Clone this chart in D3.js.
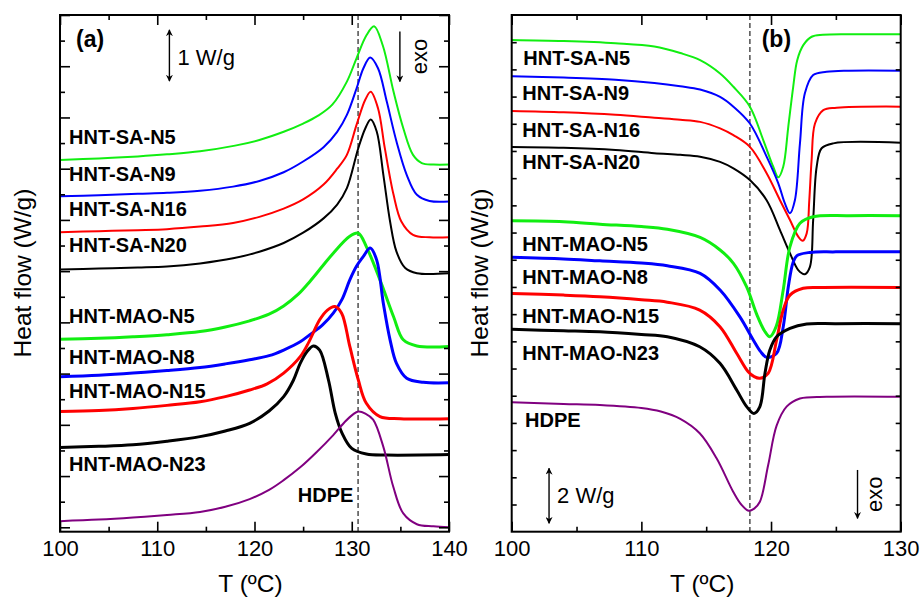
<!DOCTYPE html>
<html>
<head>
<meta charset="utf-8">
<script src="https://cdn.jsdelivr.net/npm/d3@7"></script>
<style>
  body { margin: 0; background: #fff; }
  svg text { font-family: "Liberation Sans", Arial, Helvetica, sans-serif; fill: #000; }
</style>
</head>
<body>
<svg id="chart" width="921" height="598"></svg>
<script>
// ---------------- Data: DSC curves, [T (°C), heat flow (W/g, shifted)] ----------------
// (a) melting (second heating)
const meltSA_N5 = [[100,7.17],[104,7.2],[108,7.24],[111,7.28],[114.4,7.34],[118,7.45],[120.5,7.56],[123,7.72],[125,7.88],[126.5,8.03],[128,8.25],[129.5,8.7],[130.5,9.16],[131.5,9.6],[132.3,9.78],[133.2,9.4],[134.3,8.5],[135.3,7.79],[136.3,7.27],[137.2,7.11],[138.4,7.08],[140,7.08]];
const meltSA_N9 = [[100,6.46],[104,6.48],[108,6.51],[111,6.53],[114.4,6.57],[117.8,6.65],[120.5,6.76],[123,6.93],[125,7.14],[127.1,7.42],[128.5,7.72],[129.5,8.05],[130.5,8.57],[131.2,8.96],[131.9,9.17],[132.7,8.96],[133.6,8.31],[134.6,7.53],[135.65,6.88],[136.7,6.49],[138,6.37],[140,6.36]];
const meltSA_N16 = [[100,5.76],[104,5.78],[108,5.8],[111,5.82],[114.4,5.87],[117.8,5.94],[120.5,6.06],[123,6.22],[125,6.4],[127.1,6.69],[128.5,7.0],[129.5,7.27],[130.5,7.86],[131.4,8.35],[131.95,8.5],[132.7,8.18],[133.4,7.4],[134.3,6.49],[135.1,5.97],[136.3,5.71],[138,5.66],[140,5.66]];
const meltSA_N20 = [[100,5.03],[104,5.05],[108,5.07],[111,5.09],[114.4,5.15],[117.8,5.25],[120.5,5.38],[123,5.55],[125,5.75],[127.1,6.03],[128.5,6.3],[129.5,6.62],[130.67,7.4],[131.4,7.79],[131.95,7.96],[132.56,7.73],[133.25,6.88],[133.94,5.97],[134.6,5.38],[135.5,5.06],[136.7,4.96],[140,4.96]];
const meltMAO_N5 = [[100,3.67],[104,3.69],[107.5,3.72],[111,3.76],[114.4,3.82],[117,3.91],[119.5,4.03],[121.5,4.16],[123,4.32],[124.5,4.55],[125.7,4.8],[127,5.1],[128.1,5.35],[129.8,5.68],[130.67,5.74],[131.5,5.48],[132.9,4.83],[134.3,4.11],[135.3,3.66],[136.7,3.54],[140,3.53]];
const meltMAO_N8 = [[100,2.94],[104,2.97],[107.5,3.01],[111,3.06],[114.4,3.12],[117,3.19],[119.5,3.27],[121.5,3.35],[123,3.46],[124.7,3.62],[125.7,3.76],[127,3.95],[128.1,4.18],[129,4.45],[129.8,4.83],[130.5,5.1],[131.2,5.29],[131.9,5.45],[132.56,5.22],[133.25,4.37],[133.94,3.66],[134.6,3.2],[135.65,2.91],[137.36,2.83],[140,2.82]];
const meltMAO_N15 = [[100,2.26],[104,2.28],[107.5,2.32],[111,2.38],[114.4,2.45],[117,2.55],[119.5,2.68],[121.3,2.8],[123,3.01],[124.7,3.33],[125.6,3.62],[126.7,4.05],[127.5,4.24],[128.28,4.31],[128.96,4.18],[129.8,3.53],[130.67,2.88],[131.5,2.42],[132.9,2.16],[135,2.12],[140,2.12]];
const meltMAO_N23 = [[100,1.56],[104,1.58],[107.5,1.61],[111,1.68],[114.4,1.77],[117,1.88],[119.5,2.03],[121.5,2.27],[123,2.55],[124,2.87],[124.7,3.2],[125.4,3.43],[126.05,3.54],[126.7,3.46],[127.6,2.88],[128.3,2.23],[129,1.84],[130,1.54],[131.5,1.43],[133.6,1.41],[140,1.42]];
const meltHDPE = [[100,0.12],[104,0.15],[107.5,0.19],[111,0.24],[114.4,0.3],[117,0.4],[119.5,0.55],[121.5,0.73],[123,0.92],[124.7,1.17],[126.4,1.47],[128.1,1.8],[129.3,2.06],[130.1,2.2],[130.67,2.26],[131.4,2.22],[132.2,2.1],[133.25,1.57],[134.27,0.79],[135.3,0.27],[136.7,0.06],[138.4,0.02],[140,0.0]];

// (b) crystallization (cooling)
const crysSA_N5 = [[100,18.08],[104,18.04],[108,17.96],[111,17.84],[113,17.6],[114.53,17.34],[116.07,16.85],[117.1,16.36],[118.37,15.63],[119.4,14.4],[120.17,13.42],[120.56,13.03],[120.94,13.42],[121.33,14.89],[121.71,16.36],[122.02,17.34],[122.5,17.9],[123.13,18.2],[124,18.27],[126,18.29],[130,18.29]];
const crysSA_N9 = [[100,16.75],[104,16.7],[108,16.62],[111,16.5],[113,16.38],[114.53,16.26],[116.07,15.99],[117.1,15.63],[118.37,15.01],[119.66,13.79],[120.56,12.81],[121.07,12.07],[121.46,11.71],[121.84,12.19],[122.23,14.28],[122.61,16.12],[123.25,16.79],[124.28,16.91],[126,16.95],[130,16.95]];
const crysSA_N16 = [[100,15.47],[104,15.42],[108,15.33],[111,15.22],[113,15.15],[114.53,15.07],[116.07,14.83],[117.1,14.58],[118.37,14.15],[119.66,13.18],[120.69,12.19],[121.46,11.46],[122.1,10.85],[122.44,10.7],[122.75,10.97],[122.95,12.19],[123.13,13.67],[123.39,15.01],[124.03,15.5],[125.06,15.59],[130,15.63]];
const crysSA_N20 = [[100,14.15],[104,14.12],[108,14.04],[111,13.92],[113,13.86],[114.53,13.79],[116.07,13.6],[117.1,13.36],[118.37,12.93],[119.66,12.19],[120.69,11.09],[121.46,10.24],[122.1,9.62],[122.61,9.47],[123.0,9.74],[123.25,11.46],[123.52,13.42],[123.9,14.1],[124.8,14.28],[130,14.3]];
const crysMAO_N5 = [[100,11.43],[104,11.4],[106.8,11.31],[110,11.22],[112,11.12],[114.53,10.82],[116.07,10.36],[117.1,9.87],[118.12,9.0],[118.89,8.0],[119.5,7.38],[119.91,7.17],[120.4,7.55],[120.94,8.89],[121.46,10.48],[122.23,11.34],[123.25,11.58],[126,11.62],[130,11.62]];
const crysMAO_N8 = [[100,10.09],[104,10.03],[106.8,9.96],[110,9.88],[112,9.78],[114.53,9.5],[116.07,8.89],[117.6,7.9],[118.63,7.05],[119.2,6.62],[119.66,6.41],[120.43,6.56],[120.94,7.54],[121.33,9.0],[121.7,9.9],[122.0,10.15],[123,10.27],[125,10.29],[130,10.29]];
const crysMAO_N15 = [[100,8.76],[104,8.7],[106.8,8.64],[110,8.53],[112,8.44],[114.5,8.15],[116.06,7.54],[117.35,6.56],[118.24,5.88],[118.7,5.7],[119.14,5.64],[119.78,5.82],[120.43,7.05],[120.94,8.15],[121.46,8.7],[122.48,8.95],[124,8.98],[130,8.98]];
const crysMAO_N23 = [[100,7.44],[104,7.39],[106.8,7.35],[110,7.25],[112,7.17],[114.5,6.8],[116.06,6.19],[117.35,5.21],[118.12,4.6],[118.68,4.35],[119.14,4.6],[119.53,5.82],[119.91,6.68],[120.43,7.17],[121.46,7.48],[122.75,7.64],[125,7.65],[130,7.65]];
const crysHDPE = [[100,4.76],[104,4.7],[106.8,4.66],[110,4.55],[111.5,4.42],[113,4.15],[114.5,3.62],[115.8,2.7],[117.08,1.47],[117.7,1.0],[118.28,0.77],[118.7,0.85],[119.14,1.1],[119.78,2.45],[120.43,3.9],[121.2,4.6],[122.23,4.9],[124.29,4.96],[130,4.96]];

// Sample names (labels), reference temperatures and axis ticks
const sampleNames = ["HNT-SA-N5", "HNT-SA-N9", "HNT-SA-N16", "HNT-SA-N20",
                     "HNT-MAO-N5", "HNT-MAO-N8", "HNT-MAO-N15", "HNT-MAO-N23", "HDPE"];
const refTemps = [130.65, 118.37];           // dashed reference lines, (a) and (b)
const xMajorA = [100, 110, 120, 130, 140];
const xMinorA = [105, 115, 125, 135];
const xMajorB = [100, 110, 120, 130];
const xMinorB = [105, 115, 125];
const yMajorA = d3.range(0, 10.01, 1);
const yMinorA = d3.range(0.5, 10, 1);
const yTicksB = d3.range(1, 19, 1);

// ---------------- Rendering ----------------
const svg = d3.select("#chart");
const colors = ["#11ee11", "#0000ff", "#ff0000", "#000000", "#11ee11", "#0000ff", "#ff0000", "#000000", "#800080"];
const widths = [2, 2, 2, 2, 3, 3, 3, 3, 2];

const panels = [
  {
    tag: "(a)",
    series: [meltSA_N5, meltSA_N9, meltSA_N16, meltSA_N20, meltMAO_N5, meltMAO_N8, meltMAO_N15, meltMAO_N23, meltHDPE],
    x: d3.scaleLinear().domain([100, 140]).range([60, 449]),
    y: d3.scaleLinear().domain([-0.086, 10]).range([531.7, 15]),
    xMajor: xMajorA, xMinor: xMinorA, yMajor: yMajorA, yMinor: yMinorA, yMajorLen: 10,
    ref: refTemps[0],
    // label anchors in data units [T, W/g]
    labels: [[100.93,7.48],[100.93,6.75],[100.93,6.07],[100.93,5.38],[100.93,3.98],[100.93,3.18],[100.93,2.52],[100.93,1.09],[124.45,0.49]],
    tagPos: [76, 47],
    scaleBar: {T: 111.25, v0: 8.71, v1: 9.71, text: "1 W/g", textDx: 8, textV: 9.03},
    exo: {T: 134.95, v0: 8.7, v1: 9.68, textX: 426.5},
    yTitleX: 30.5
  },
  {
    tag: "(b)",
    series: [crysSA_N5, crysSA_N9, crysSA_N16, crysSA_N20, crysMAO_N5, crysMAO_N8, crysMAO_N15, crysMAO_N23, crysHDPE],
    x: d3.scaleLinear().domain([100, 130]).range([511.7, 900.7]),
    y: d3.scaleLinear().domain([0, 19]).range([531.7, 15]),
    xMajor: xMajorB, xMinor: xMinorB, yMajor: yTicksB, yMinor: [], yMajorLen: 5,
    ref: refTemps[1],
    labels: [[100.9,17.16],[100.82,15.87],[100.82,14.5],[100.82,13.33],[100.82,10.33],[100.82,9.11],[100.82,7.68],[100.82,6.31],[101.03,3.84]],
    tagPos: [761.7, 47],
    scaleBar: {T: 102.88, v0: 0.31, v1: 2.33, text: "2 W/g", textDx: 8, textV: 1.05},
    exo: {T: 126.67, v0: 0.49, v1: 2.27, textX: 882},
    yTitleX: 487.5
  }
];

// arrowhead markers
const defs = svg.append("defs");
function marker(id, orient) {
  defs.append("marker")
    .attr("id", id).attr("viewBox", "0 0 10 10")
    .attr("refX", 9).attr("refY", 5)
    .attr("markerWidth", 7).attr("markerHeight", 7)
    .attr("markerUnits", "userSpaceOnUse")
    .attr("orient", orient)
    .append("path").attr("d", "M0,0 L10,5 L0,10 L3,5 Z").attr("fill", "#000");
}
marker("arrowEnd", "auto");
marker("arrowStart", "auto-start-reverse");

panels.forEach((p, pi) => {
  const g = svg.append("g");
  const [x0, x1] = p.x.range();
  const [yb, yt] = p.y.range();

  g.append("clipPath").attr("id", "clip" + pi)
    .append("rect").attr("x", x0).attr("y", yt).attr("width", x1 - x0).attr("height", yb - yt);

  // dashed reference line
  g.append("line")
    .attr("x1", p.x(p.ref)).attr("x2", p.x(p.ref))
    .attr("y1", yt).attr("y2", yb)
    .attr("stroke", "#333").attr("stroke-width", 1.3)
    .attr("stroke-dasharray", "5,3");

  // curves
  const line = d3.line().x(d => p.x(d[0])).y(d => p.y(d[1])).curve(d3.curveCatmullRom.alpha(0.5));
  const curves = g.append("g").attr("clip-path", `url(#clip${pi})`);
  p.series.forEach((s, i) => {
    curves.append("path").datum(s)
      .attr("d", line)
      .attr("fill", "none")
      .attr("stroke", colors[i])
      .attr("stroke-width", widths[i])
      .attr("stroke-linejoin", "round");
  });

  // axes: ticks pointing inward
  const hideDomain = sel => sel.select(".domain").remove();
  const tickW = sel => sel.selectAll("line").attr("stroke-width", 1.6);
  g.append("g").attr("transform", `translate(0,${yb})`)
    .call(d3.axisBottom(p.x).tickValues(p.xMajor).tickSizeInner(-10).tickSizeOuter(0).tickPadding(9).tickFormat(d3.format("d")))
    .call(hideDomain).call(tickW)
    .call(s => s.selectAll("text").style("font-size", "22px").attr("fill", "#000"));
  g.append("g").attr("transform", `translate(0,${yb})`)
    .call(d3.axisBottom(p.x).tickValues(p.xMinor).tickSizeInner(-5).tickSizeOuter(0).tickFormat(""))
    .call(hideDomain).call(tickW);
  g.append("g").attr("transform", `translate(0,${yt})`)
    .call(d3.axisTop(p.x).tickValues(p.xMajor).tickSizeInner(-10).tickSizeOuter(0).tickFormat(""))
    .call(hideDomain).call(tickW);
  g.append("g").attr("transform", `translate(0,${yt})`)
    .call(d3.axisTop(p.x).tickValues(p.xMinor).tickSizeInner(-5).tickSizeOuter(0).tickFormat(""))
    .call(hideDomain).call(tickW);
  [[d3.axisLeft, x0], [d3.axisRight, x1]].forEach(([ax, xp]) => {
    g.append("g").attr("transform", `translate(${xp},0)`)
      .call(ax(p.y).tickValues(p.yMajor).tickSizeInner(-p.yMajorLen).tickSizeOuter(0).tickFormat(""))
      .call(hideDomain).call(tickW);
    if (p.yMinor.length)
      g.append("g").attr("transform", `translate(${xp},0)`)
        .call(ax(p.y).tickValues(p.yMinor).tickSizeInner(-5).tickSizeOuter(0).tickFormat(""))
        .call(hideDomain).call(tickW);
  });

  // frame
  g.append("rect")
    .attr("x", x0).attr("y", yt).attr("width", x1 - x0).attr("height", yb - yt)
    .attr("fill", "none").attr("stroke", "#000").attr("stroke-width", 2);

  // sample labels
  p.labels.forEach((l, i) => {
    g.append("text")
      .attr("x", p.x(l[0])).attr("y", p.y(l[1]))
      .style("font-size", "20px").style("font-weight", "bold")
      .text(sampleNames[i]);
  });

  // panel tag
  g.append("text").attr("x", p.tagPos[0]).attr("y", p.tagPos[1])
    .style("font-size", "23px").style("font-weight", "bold").text(p.tag);

  // scale bar
  const sb = p.scaleBar;
  g.append("line")
    .attr("x1", p.x(sb.T)).attr("x2", p.x(sb.T))
    .attr("y1", p.y(sb.v0)).attr("y2", p.y(sb.v1))
    .attr("stroke", "#000").attr("stroke-width", 1.4)
    .attr("marker-start", "url(#arrowStart)").attr("marker-end", "url(#arrowEnd)");
  g.append("text").attr("x", p.x(sb.T) + sb.textDx).attr("y", p.y(sb.textV))
    .style("font-size", "22px").text(sb.text);

  // exo direction
  const ex = p.exo;
  g.append("line")
    .attr("x1", p.x(ex.T)).attr("x2", p.x(ex.T))
    .attr("y1", p.y(ex.v1)).attr("y2", p.y(ex.v0))
    .attr("stroke", "#000").attr("stroke-width", 1.4)
    .attr("marker-end", "url(#arrowEnd)");
  g.append("text")
    .attr("transform", `translate(${ex.textX},${(p.y(ex.v0) + p.y(ex.v1)) / 2}) rotate(-90)`)
    .attr("text-anchor", "middle")
    .style("font-size", "22px").text("exo");

  // axis titles
  g.append("text")
    .attr("x", (x0 + x1) / 2 - 4).attr("y", 592)
    .attr("text-anchor", "middle").style("font-size", "24.5px").text("T (ºC)");
  g.append("text")
    .attr("transform", `translate(${p.yTitleX},273) rotate(-90)`)
    .attr("text-anchor", "middle").style("font-size", "24.5px").text("Heat flow (W/g)");
});
</script>
</body>
</html>
